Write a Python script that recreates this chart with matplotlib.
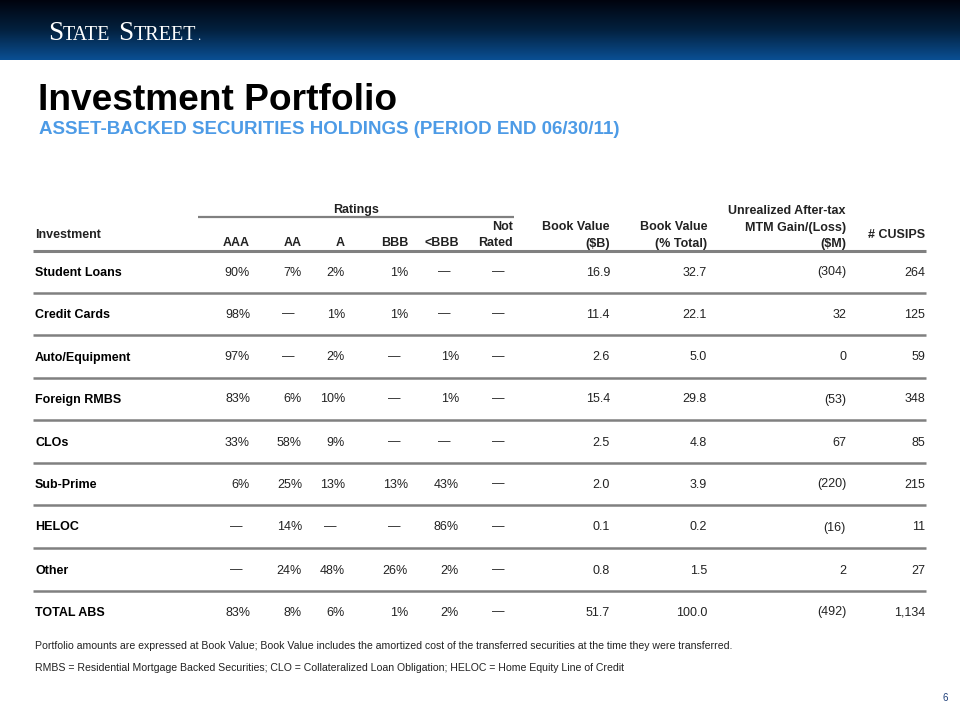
import numpy as np
import matplotlib.pyplot as plt
from matplotlib.colors import LinearSegmentedColormap

plt.rcParams['font.family'] = ['Liberation Sans', 'DejaVu Sans']

# Table data
investments = ["Student Loans", "Credit Cards", "Auto/Equipment", "Foreign RMBS", "CLOs",
               "Sub-Prime", "HELOC", "Other", "TOTAL ABS"]
aaa = [90, 98, 97, 83, 33, 6, 0, 0, 83]
aa = [7, 0, 0, 6, 58, 25, 14, 24, 8]
a_rating = [2, 1, 2, 10, 9, 13, 0, 48, 6]
bbb = [1, 1, 0, 0, 0, 13, 0, 26, 1]
below_bbb = [0, 0, 1, 1, 0, 43, 86, 2, 2]
not_rated = [0, 0, 0, 0, 0, 0, 0, 0, 0]
book_value_b = [16.9, 11.4, 2.6, 15.4, 2.5, 2.0, 0.1, 0.8, 51.7]
book_value_pct = [32.7, 22.1, 5.0, 29.8, 4.8, 3.9, 0.2, 1.5, 100.0]
mtm_gain = [-304, 32, 0, -53, 67, -220, -16, 2, -492]
cusips = [264, 125, 59, 348, 85, 215, 11, 27, 1134]

rating_headers = ["AAA", "AA", "A", "BBB", "<BBB", "Rated"]
notes = ["Portfolio amounts are expressed at Book Value; Book Value includes the amortized cost of the "
         "transferred securities at the time they were transferred.",
         "RMBS = Residential Mortgage Backed Securities; CLO = Collateralized Loan Obligation; "
         "HELOC = Home Equity Line of Credit"]

DASH = "\u2014"


def pct(v):
    return DASH if v == 0 else f"{v}%"


def money(v):
    return f"({-v})" if v < 0 else f"{v}"


fig = plt.figure(figsize=(9.6, 7.2), dpi=100)
ax = fig.add_axes([0, 0, 1, 1])

# header band with vertical gradient
band = LinearSegmentedColormap.from_list('band', ['#00030e', '#03213f', '#0a4f93'])
grad = np.linspace(0, 1, 100).reshape(-1, 1)
ax.imshow(grad, cmap=band, extent=[0, 960, 60, 0], aspect='auto')
ax.set_xlim(0, 960)
ax.set_ylim(720, 0)
ax.axis('off')

# logo in small caps, pieces chained left to right
renderer = fig.canvas.get_renderer()
x = 48
for piece, size, gap in [("S", 19.5, 0), ("TATE", 14.5, 8), ("S", 19.5, 0), ("TREET", 14.5, 1), (".", 9, 0)]:
    t = ax.text(x, 40, piece, color='white', fontsize=size, family='Liberation Serif', va='baseline')
    bb = t.get_window_extent(renderer)
    x += bb.width + gap

# titles
ax.text(38, 110, "Investment Portfolio", fontsize=26.7, fontweight='bold', color='black', va='baseline')
ax.text(39, 134, "ASSET-BACKED SECURITIES HOLDINGS (PERIOD END 06/30/11)", fontsize=13.5,
        fontweight='bold', color='#4d9be6', va='baseline')

# column right edges
col_x = [250, 302, 345, 408, 459, 513, 610, 707, 846, 925]
row_y = [271, 313, 356, 398, 441, 483, 526, 569, 611]
fs = 9
off = 4.5  # baseline offset from visual row centre
gray_line = '#808080'
hdr = dict(fontsize=fs, fontweight='bold', va='baseline', color='#222222')

# header
ax.text(356, 209 + off, "Ratings", ha='center', **hdr)
ax.plot([198, 514], [217, 217], color=gray_line, lw=1.6, solid_capstyle='butt')
ax.text(35, 233 + off, "Investment", **hdr)
for cx, h in zip(col_x[:6], rating_headers):
    ax.text(cx, 242 + off, h, ha='right', **hdr)
ax.text(col_x[5], 225 + off, "Not", ha='right', **hdr)
ax.text(col_x[6], 226 + off, "Book Value", ha='right', **hdr)
ax.text(col_x[6], 242 + off, "($B)", ha='right', **hdr)
ax.text(col_x[7], 226 + off, "Book Value", ha='right', **hdr)
ax.text(col_x[7], 242 + off, "(% Total)", ha='right', **hdr)
ax.text(col_x[8], 209 + off, "Unrealized After-tax", ha='right', **hdr)
ax.text(col_x[8], 226 + off, "MTM Gain/(Loss)", ha='right', **hdr)
ax.text(col_x[8], 242 + off, "($M)", ha='right', **hdr)
ax.text(col_x[9], 233 + off, "# CUSIPS", ha='right', **hdr)
ax.plot([33, 926], [251, 251], color=gray_line, lw=2.2, solid_capstyle='butt')

# rows
cell = dict(fontsize=fs, ha='right', va='baseline', color='#222222')
for i, y in enumerate(row_y):
    yb = y + off
    ax.text(35, yb, investments[i], fontsize=fs, fontweight='bold', va='baseline', color='black')
    ratings = [aaa[i], aa[i], a_rating[i], bbb[i], below_bbb[i], not_rated[i]]
    for cx, v in zip(col_x[:6], ratings):
        ax.text(cx - (8 if v == 0 else 0), yb, pct(v), **cell)
    ax.text(col_x[6], yb, f"{book_value_b[i]:.1f}", **cell)
    ax.text(col_x[7], yb, f"{book_value_pct[i]:.1f}", **cell)
    ax.text(col_x[8], yb, money(mtm_gain[i]), **cell)
    ax.text(col_x[9], yb, f"{cusips[i]:,}", **cell)
    if i < len(row_y) - 1:
        ax.plot([33, 926], [y + 21.5, y + 21.5], color=gray_line, lw=1.8, solid_capstyle='butt')

# footnotes
ax.text(35, 649, notes[0], fontsize=7.6, va='baseline', color='#222222')
ax.text(35, 671, notes[1], fontsize=7.6, va='baseline', color='#222222')

# page number
ax.text(945, 701, "6", fontsize=7, ha='center', va='baseline', color='#1f3f7a')

fig.savefig('out.png', dpi=100)
